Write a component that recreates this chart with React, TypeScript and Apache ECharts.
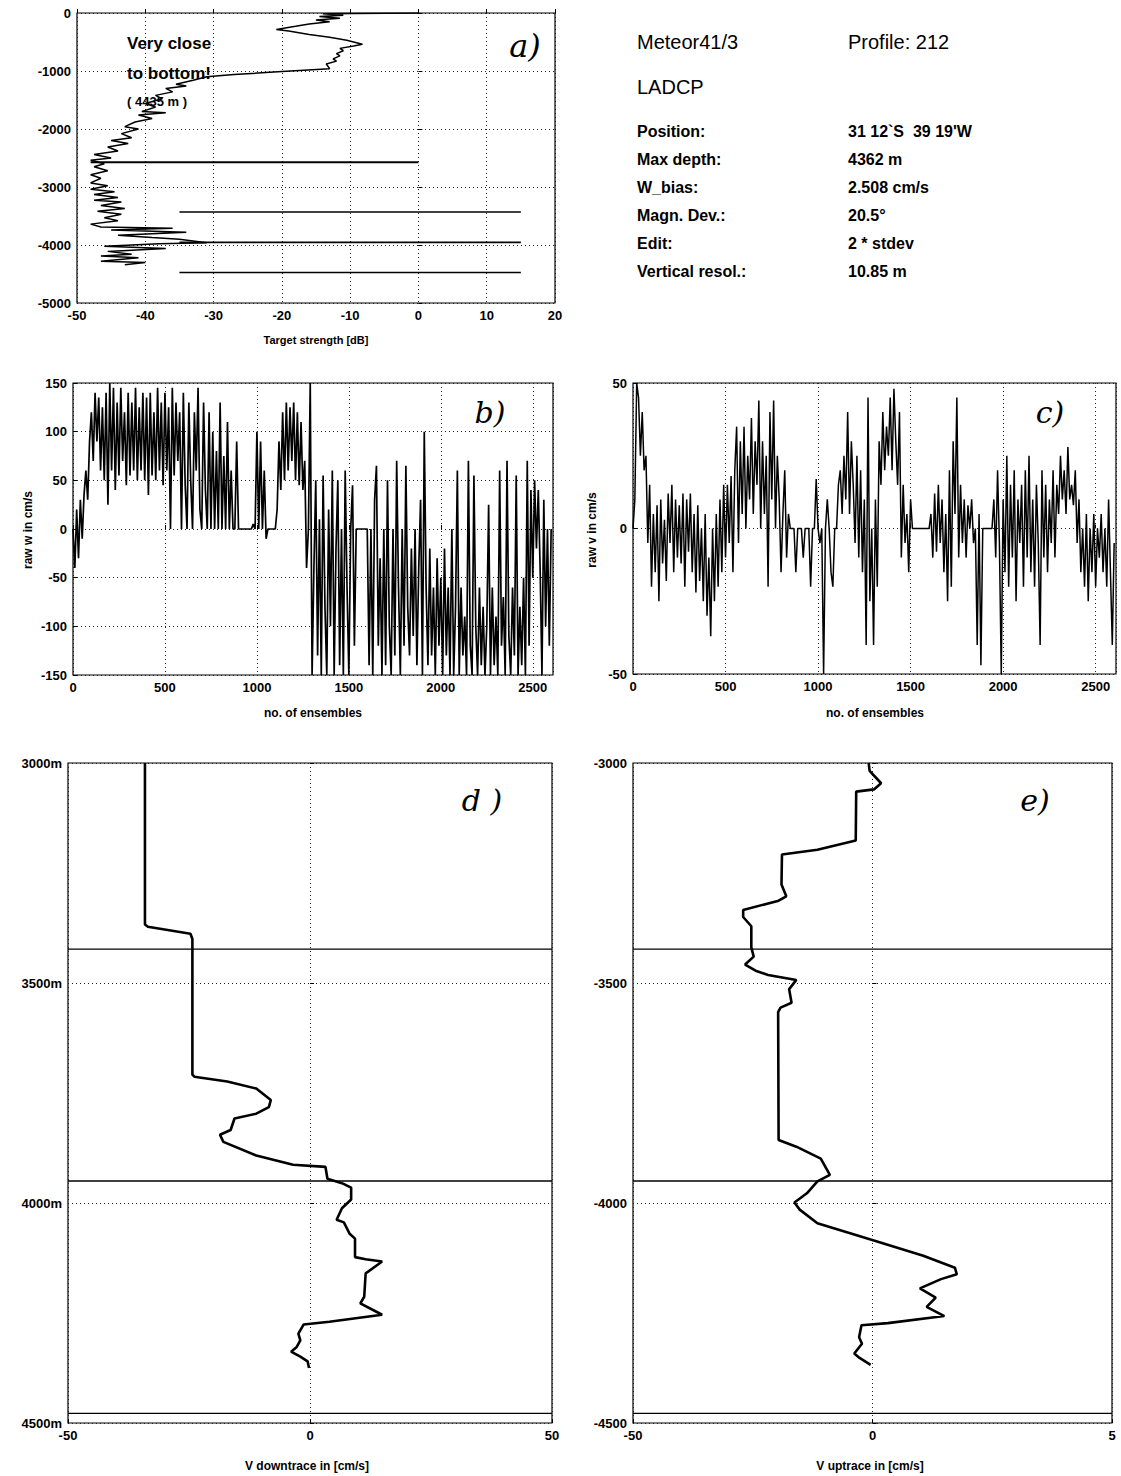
import React, { useEffect, useRef } from "react";
import * as echarts from "echarts";

const FONT = "Liberation Sans";

// ---------- Panel a: target strength profile ----------
const aProfile: [number, number][] = [
  [0, 0], [-14, -12], [-11, -40], [-14.5, -60], [-11.5, -90], [-15, -120], [-13, -150],
  [-16, -190], [-18, -230], [-20.8, -285], [-19, -310], [-16, -370], [-13, -420],
  [-10.5, -470], [-8.2, -540], [-9.5, -570], [-11.5, -610], [-11, -650], [-12, -700],
  [-11.5, -740], [-12.5, -790], [-12, -830], [-13.5, -880], [-13, -960], [-20, -1010],
  [-27, -1060], [-31, -1100], [-33, -1160], [-35.5, -1230], [-34, -1260], [-37, -1300],
  [-36, -1360], [-38.5, -1420], [-37.5, -1480], [-40, -1560], [-38.5, -1620],
  [-40.5, -1700], [-37, -1720], [-41, -1760], [-39, -1820], [-41.5, -1880], [-43, -1960],
  [-41, -2000], [-43.5, -2080], [-42, -2150], [-45, -2200], [-42.5, -2250],
  [-45.5, -2310], [-44, -2380], [-47.5, -2440], [-45, -2500], [-48, -2540],
  [-46, -2600], [-47.5, -2650], [-45.5, -2720], [-48, -2790], [-46.5, -2850],
  [-48, -2930], [-45.5, -2980], [-48, -3040], [-44.5, -3080], [-47.5, -3130],
  [-44, -3180], [-47.5, -3230], [-43.5, -3260], [-46.5, -3320], [-43, -3370],
  [-47, -3420], [-43.5, -3470], [-46, -3530], [-44, -3580], [-48, -3640],
  [-46.5, -3690], [-36, -3710], [-45, -3740], [-34, -3780], [-44, -3830],
  [-39, -3870], [-35, -3900], [-31, -3960], [-38, -3980], [-46, -4020], [-37, -4060],
  [-45.5, -4110], [-42, -4160], [-46.5, -4190], [-41, -4220], [-46.5, -4280],
  [-40, -4300], [-43, -4340],
];
const aLineDepths = [-2575, -3431, -3954, -4475];
const aLineStart = [-48, -35, -35, -35];
const aLineEnd = [0, 15, 15, 15];

// ---------- Panel b: raw w (every 10 ensembles) ----------
const bStep = 10;
const bW = [
  0, -40, 20, -30, 30, -10, 35, 60, 30, 90,
  120, 70, 140, 90, 135, 60, 125, 50, 140, 25,
  150, 60, 145, 40, 130, 55, 145, 70, 120, 45,
  140, 55, 130, 60, 145, 50, 125, 60, 140, 50,
  135, 35, 140, 55, 120, 50, 145, 60, 130, 45,
  140, 60, 125, 0, 145, 55, 130, 70, 120, 0,
  140, 45, 0, 130, 50, 0, 120, 60, 145, 20,
  0, 130, 40, 0, 120, 0, 100, 0, 80, 0,
  130, 0, 75, 0, 110, 0, 60, 0, 0, 90,
  0, 0, 0, 0, 0, 0, 0, 0, 5, 0,
  100, 0, 90, 0, 60, -10, 0, 0, 0, 0,
  0, 20, 90, 40, 120, 50, 130, 60, 125, 70,
  130, 50, 120, 45, 110, 40, 70, -40, 0, 150,
  -150, -40, 50, -130, 10, -150, 55, -80, -150, 20,
  -100, 60, -150, -20, 50, -140, 0, -150, 60, -60,
  -150, 0, 45, -120, 0, 0, 0, 0, 0, 0,
  0, -140, 0, -150, 30, 65, -120, -30, -150, 0,
  -140, 50, -100, -150, 0, -130, 70, -60, -150, 0,
  -120, 65, -80, -130, -20, -110, 0, -140, -40, 30,
  -150, 100, -60, -140, -20, -130, -60, -150, -30, -120,
  -50, -150, -20, -130, -60, -150, 0, -150, -80, 60,
  -150, -60, -130, -90, -150, 70, -120, -150, 55, -100,
  -150, -60, -140, -80, -150, -100, 25, -150, -60, -140,
  -90, -150, 60, -120, -70, -150, 70, -110, -150, -60,
  -130, 55, -150, -80, -140, -50, -150, 70, -120, 40,
  -50, 50, -20, 40, -40, -150, 30, -100, 0, -120,
  0,
];

// ---------- Panel c: raw v (every 10 ensembles) ----------
const cStep = 10;
const cV = [
  0, 10, 50, 45, 25, 40, 20, 25, -5, 15,
  -20, 5, -15, 8, -25, 10, -12, 3, -18, 12,
  -5, 15, -15, 10, -10, 8, -12, 12, -20, 10,
  -8, 12, -15, 5, -22, 8, -18, 0, -25, 5,
  -30, -10, -37, 0, -25, 5, -20, 10, -15, 15,
  -10, 15, -5, 18, -15, 20, 35, -5, 30, 5,
  35, 0, 25, 10, 38, 5, 30, 15, 44, 0,
  30, 5, 25, -20, 40, 10, 44, 0, 25, 10,
  -15, 5, 20, -10, 5, 0, 0, 0, -15, 0,
  0, 0, -10, 0, 0, 0, -20, 0, 0, 17,
  0, -5, 0, -50, 0, 10, 0, -15, -20, 0,
  0, 15, 20, 5, 25, 10, 40, 5, 30, 15,
  -5, 25, -10, 20, -15, 10, -40, 45, -25, 0,
  -40, 10, -20, 30, 15, 40, 20, 35, 25, 45,
  20, 48, 30, 15, 40, -10, 15, -5, 5, -15,
  10, 0, 0, 0, 0, 0, 0, 0, 0, 0,
  0, 5, -10, 12, -8, 15, -5, 10, -15, 5,
  -25, 20, -20, 30, 5, 45, -10, 15, -5, 10,
  -10, 8, 0, 10, -5, 0, -40, 5, -47, 0,
  0, 0, 0, 0, 0, 10, -10, 20, -5, -50,
  10, -15, 25, -20, 15, -10, 20, -25, 10, -5,
  15, -20, 20, -10, 25, -15, 10, -20, 15, -5,
  -40, 20, -10, 15, -15, 10, -5, 20, -10, 15,
  5, 25, 10, 20, 5, 28, 10, 15, 8, 20,
  -5, 10, -15, 0, -20, 5, -25, 0, -15, 5,
  -20, 0, -10, 5, -15, 0, -20, 10, -15, -40,
  -5,
];

// ---------- Panel d: V downtrace ----------
const dProfile: [number, number][] = [
  [-34.1, 3000], [-34.1, 3367], [-33.5, 3372], [-24.7, 3388], [-24.3, 3400],
  [-24.3, 3708], [-23.9, 3713], [-17.1, 3724], [-11.1, 3740], [-8.1, 3766],
  [-8.5, 3782], [-11.1, 3797], [-15.6, 3808], [-16.4, 3834], [-18.6, 3845],
  [-17.9, 3861], [-11.1, 3892], [-3.5, 3913], [3.2, 3918], [3.6, 3945],
  [6.6, 3955], [8.5, 3965], [8.5, 3992], [6.6, 4012], [5.5, 4038], [7.0, 4044],
  [8.2, 4070], [9.3, 4081], [9.3, 4123], [11.5, 4128], [14.9, 4133], [11.5, 4160],
  [11.2, 4213], [10.4, 4228], [14.9, 4254], [4.0, 4270], [-1.3, 4276],
  [-2.4, 4297], [-2.0, 4312], [-2.8, 4328], [-3.9, 4338], [-2.0, 4349],
  [-0.5, 4360], [-0.2, 4375],
];

// ---------- Panel e: V uptrace ----------
const eProfile: [number, number][] = [
  [-0.08, -3000], [-0.06, -3018], [0.18, -3046], [0.03, -3060], [-0.34, -3065],
  [-0.35, -3176], [-1.15, -3197], [-1.89, -3208], [-1.9, -3276], [-1.8, -3303],
  [-1.96, -3313], [-2.7, -3334], [-2.7, -3350], [-2.53, -3371], [-2.53, -3419],
  [-2.48, -3440], [-2.66, -3458], [-2.44, -3472], [-2.18, -3482], [-1.59, -3493],
  [-1.74, -3514], [-1.69, -3545], [-1.92, -3556], [-1.97, -3566], [-1.96, -3857],
  [-1.59, -3872], [-1.08, -3899], [-0.89, -3936], [-1.15, -3951], [-1.37, -3978],
  [-1.63, -3999], [-1.52, -4015], [-1.15, -4046], [-0.04, -4083], [1.06, -4120],
  [1.72, -4147], [1.76, -4162], [1.43, -4173], [0.99, -4194], [1.32, -4215],
  [1.13, -4236], [1.5, -4257], [0.32, -4273], [-0.23, -4278], [-0.28, -4305],
  [-0.22, -4320], [-0.38, -4342], [-0.27, -4352], [-0.04, -4368],
];
const deLineDepths = [3423, 3950, 4478];
const eXTickText: Record<string, string> = { "-5": "-50", "0": "0", "5": "5" };

// ---------- Info block ----------
const infoLabels = ["Position:", "Max depth:", "W_bias:", "Magn. Dev.:", "Edit:", "Vertical resol.:"];
const infoValues = ["31 12`S  39 19'W", "4362 m", "2.508 cm/s", "20.5°", "2 * stdev", "10.85 m"];

const plain = (v: number) => String(v);

function axis(gridIndex: number, min: number, max: number, interval: number, extra: any = {}) {
  return {
    type: "value",
    gridIndex,
    min,
    max,
    interval,
    axisLine: { show: false },
    axisTick: { show: true, inside: true, length: 4, lineStyle: { color: "#000" } },
    axisLabel: {
      color: "#000",
      fontFamily: FONT,
      fontWeight: "bold",
      fontSize: 13,
      margin: 6,
      formatter: plain,
      ...(extra.axisLabel || {}),
    },
    splitLine: { show: true, lineStyle: { color: "#222", type: [1, 3], width: 1 } },
    ...(extra.rest || {}),
  };
}

function lineSeries(xi: number, data: any[], width: number) {
  return {
    type: "line",
    xAxisIndex: xi,
    yAxisIndex: xi,
    data,
    showSymbol: false,
    symbol: "none",
    lineStyle: { color: "#000", width },
    silent: true,
  };
}

function txt(x: number, y: number, text: string, size: number, opts: any = {}) {
  return {
    type: "text",
    x,
    y,
    rotation: opts.rotation || 0,
    style: {
      text,
      fill: "#000",
      fontFamily: opts.family || FONT,
      fontSize: size,
      fontWeight: opts.weight || "normal",
      fontStyle: opts.style || "normal",
      align: opts.align || "left",
      verticalAlign: "middle",
    },
  };
}

export default function App() {
  const ref = useRef<HTMLDivElement>(null);
  useEffect(() => {
    if (!ref.current) return;
    const chart = echarts.init(ref.current, null, { renderer: "svg" });

    const grids = [
      { left: 77, top: 13, width: 478, height: 290 },
      { left: 73, top: 383, width: 480, height: 292 },
      { left: 633, top: 383, width: 483, height: 291 },
      { left: 68, top: 763, width: 484, height: 660 },
      { left: 633, top: 763, width: 479, height: 660 },
    ].map((g) => ({ ...g, show: true, borderColor: "#000", borderWidth: 1.2, backgroundColor: "transparent" }));

    const xAxes = [
      axis(0, -50, 20, 10),
      axis(1, 0, 2610, 500),
      axis(2, 0, 2610, 500),
      axis(3, -50, 50, 50),
      axis(4, -5, 5, 5, { axisLabel: { formatter: (v: number) => eXTickText[String(v)] ?? String(v) } }),
    ];
    const yAxes = [
      axis(0, -5000, 0, 1000),
      axis(1, -150, 150, 50),
      axis(2, -50, 50, 50),
      axis(3, 3000, 4500, 500, { axisLabel: { formatter: (v: number) => `${v}m` }, rest: { inverse: true } }),
      axis(4, -4500, -3000, 500),
    ];

    const series: any[] = [];
    series.push(lineSeries(0, aProfile, 1.5));
    aLineDepths.forEach((d, i) => {
      series.push(lineSeries(0, [[aLineStart[i], d], [aLineEnd[i], d]], i === 0 ? 2 : 1.6));
    });
    series.push(lineSeries(1, bW.map((v, i) => [i * bStep, v]), 1.7));
    series.push(lineSeries(2, cV.map((v, i) => [i * cStep, v]), 1.5));
    series.push(lineSeries(3, dProfile, 2.6));
    series.push(lineSeries(4, eProfile, 2.6));
    deLineDepths.forEach((d) => {
      series.push(lineSeries(3, [[-50, d], [50, d]], 1.3));
      series.push(lineSeries(4, [[-5, -d], [5, -d]], 1.3));
    });

    const graphics: any[] = [
      // panel a annotation
      txt(127, 43, "Very close", 17, { weight: "bold" }),
      txt(127, 73, "to bottom!", 17, { weight: "bold" }),
      txt(127, 101, "( 4435 m )", 13, { weight: "bold" }),
      // panel letters
      txt(525, 46, "a)", 32, { family: "DejaVu Serif", style: "italic", align: "center" }),
      txt(490, 412, "b)", 30, { family: "DejaVu Serif", style: "italic", align: "center" }),
      txt(1050, 412, "c)", 30, { family: "DejaVu Serif", style: "italic", align: "center" }),
      txt(482, 800, "d )", 30, { family: "DejaVu Serif", style: "italic", align: "center" }),
      txt(1035, 800, "e)", 30, { family: "DejaVu Serif", style: "italic", align: "center" }),
      // axis names
      txt(316, 340, "Target strength [dB]", 11, { weight: "bold", align: "center" }),
      txt(313, 713, "no. of ensembles", 12, { weight: "bold", align: "center" }),
      txt(875, 713, "no. of ensembles", 12, { weight: "bold", align: "center" }),
      txt(28, 530, "raw w in cm/s", 12, { weight: "bold", align: "center", rotation: Math.PI / 2 }),
      txt(592, 530, "raw v in cm/s", 12, { weight: "bold", align: "center", rotation: Math.PI / 2 }),
      txt(307, 1466, "V downtrace in [cm/s]", 12, { weight: "bold", align: "center" }),
      txt(870, 1466, "V uptrace in [cm/s]", 12, { weight: "bold", align: "center" }),
      // info block
      txt(637, 42, "Meteor41/3", 20),
      txt(848, 42, "Profile: 212", 20),
      txt(637, 87, "LADCP", 20),
    ];
    const rowY = [131, 159, 187, 215, 243, 271];
    infoLabels.forEach((l, i) => {
      graphics.push(txt(637, rowY[i], l, 16, { weight: "bold" }));
      graphics.push(txt(848, rowY[i], infoValues[i], 16, { weight: "bold" }));
    });

    chart.setOption({
      animation: false,
      backgroundColor: "#fff",
      grid: grids,
      xAxis: xAxes,
      yAxis: yAxes,
      series,
      graphic: graphics,
    });
    return () => chart.dispose();
  }, []);
  return (
    <div
      ref={ref}
      style={{ position: "absolute", left: 0, top: 0, width: 1121, height: 1476, background: "#fff" }}
    />
  );
}
